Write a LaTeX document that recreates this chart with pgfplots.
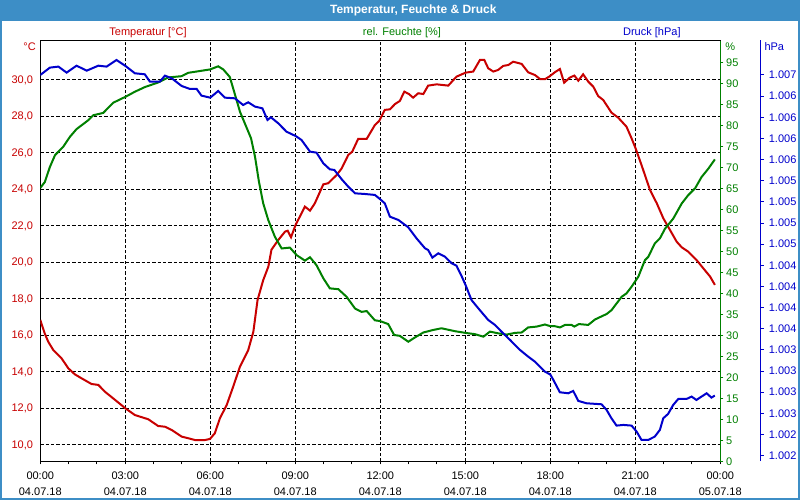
\documentclass[border=0pt]{standalone}
\usepackage{pgfplots}
\pgfplotsset{compat=1.18}
\usepackage{fontspec}
\setmainfont{Liberation Sans}
\definecolor{tred}{RGB}{200,0,0}
\definecolor{tgreen}{RGB}{0,128,0}
\definecolor{tblue}{RGB}{0,0,204}
\definecolor{barblue}{RGB}{61,142,198}
\pgfplotstableread{
t T
0.00 16.85
0.16 16.1
0.28 15.66
0.46 15.2
0.75 14.75
0.99 14.2
1.22 13.87
1.46 13.65
1.81 13.34
2.05 13.29
2.28 12.92
2.64 12.47
3.01 12.0
3.34 11.64
3.81 11.41
4.16 11.04
4.40 11.0
4.64 10.82
4.99 10.46
5.22 10.37
5.46 10.27
5.81 10.27
5.99 10.33
6.16 10.64
6.34 11.46
6.58 12.19
6.81 13.2
7.05 14.3
7.34 15.2
7.52 16.2
7.67 17.95
7.87 19.04
8.05 19.77
8.16 20.7
8.40 21.23
8.64 21.69
8.73 21.74
8.85 21.38
9.01 22.05
9.34 23.06
9.52 22.84
9.69 23.24
9.99 24.28
10.16 24.34
10.46 24.79
10.64 25.16
10.87 25.89
11.01 26.07
11.22 26.77
11.52 26.77
11.81 27.53
11.96 27.75
12.16 28.36
12.34 28.39
12.52 28.68
12.69 28.85
12.85 29.36
13.01 29.23
13.16 29.03
13.34 29.27
13.52 29.23
13.69 29.69
13.99 29.76
14.40 29.69
14.69 30.18
15.01 30.4
15.28 30.46
15.52 31.1
15.67 31.1
15.81 30.64
15.99 30.46
16.16 30.55
16.34 30.77
16.52 30.82
16.69 31.0
16.99 30.88
17.22 30.42
17.46 30.27
17.64 30.05
17.81 30.04
17.96 30.18
18.16 30.42
18.34 30.6
18.49 29.85
18.69 30.13
18.85 30.24
18.99 29.96
19.16 30.31
19.34 29.91
19.52 29.63
19.69 29.12
19.87 28.9
20.16 28.21
20.40 27.93
20.69 27.44
20.87 26.8
21.01 26.26
21.22 25.34
21.52 23.97
21.76 23.24
21.99 22.42
22.16 21.96
22.46 21.14
22.64 20.83
22.87 20.59
23.16 20.14
23.40 19.68
23.64 19.23
23.81 18.77
}\temptable
\pgfplotstableread{
t H
0.00 65.1
0.16 66.5
0.34 70.1
0.52 72.9
0.81 74.9
1.05 77.3
1.28 79.1
1.69 81.2
1.87 82.4
2.22 82.95
2.58 85.4
3.01 86.8
3.34 88.0
3.69 89.1
4.16 90.2
4.52 91.4
4.99 91.7
5.22 92.5
5.99 93.3
6.28 94.05
6.46 93.3
6.69 91.5
6.86 87.6
7.05 83.2
7.28 79.5
7.44 76.9
7.58 72.5
7.72 66.5
7.87 61.4
8.05 57.4
8.28 53.5
8.52 50.7
8.81 50.9
9.05 49.1
9.34 47.8
9.52 48.6
9.75 46.7
9.99 43.6
10.22 41.2
10.52 41.0
10.81 39.2
11.11 36.4
11.34 35.6
11.52 35.8
11.81 33.6
12.00 33.4
12.28 32.7
12.49 30.1
12.69 29.9
12.99 28.5
13.22 29.5
13.52 30.7
13.87 31.3
14.16 31.7
14.64 31.0
15.01 30.6
15.34 30.3
15.64 29.7
15.87 30.9
16.16 30.5
16.46 30.2
16.75 30.6
16.99 30.7
17.22 31.9
17.52 32.1
17.81 32.6
18.00 32.2
18.16 32.2
18.34 31.9
18.52 32.5
18.75 32.5
18.85 32.1
19.01 32.7
19.34 32.5
19.58 33.8
19.99 35.1
20.16 36.0
20.34 37.6
20.52 39.2
20.69 40.0
20.87 41.6
21.11 44.0
21.34 47.9
21.46 48.7
21.69 51.9
21.87 53.1
22.05 55.4
22.34 57.8
22.64 61.4
22.87 63.4
23.11 65.0
23.34 67.7
23.58 69.7
23.81 71.9
}\humtable
\pgfplotstableread{
t P
0.00 1006.600
0.34 1006.687
0.64 1006.699
0.93 1006.628
1.28 1006.710
1.64 1006.651
2.05 1006.710
2.34 1006.699
2.69 1006.777
3.01 1006.706
3.34 1006.620
3.69 1006.608
3.87 1006.521
4.22 1006.521
4.40 1006.592
4.64 1006.561
4.99 1006.470
5.28 1006.435
5.52 1006.435
5.69 1006.356
6.00 1006.332
6.28 1006.411
6.52 1006.332
6.87 1006.324
7.16 1006.245
7.34 1006.277
7.58 1006.226
7.84 1006.206
8.02 1006.068
8.14 1006.100
8.40 1006.029
8.69 1005.930
9.01 1005.879
9.22 1005.832
9.52 1005.694
9.75 1005.682
9.99 1005.556
10.22 1005.485
10.38 1005.477
10.64 1005.367
10.87 1005.280
11.11 1005.201
11.46 1005.193
11.81 1005.182
11.96 1005.142
12.16 1005.083
12.34 1004.925
12.64 1004.886
12.99 1004.799
13.28 1004.669
13.58 1004.551
13.69 1004.531
13.84 1004.441
14.05 1004.492
14.28 1004.453
14.52 1004.374
14.69 1004.346
14.88 1004.216
15.01 1004.118
15.22 1003.940
15.46 1003.842
15.81 1003.704
16.05 1003.645
16.28 1003.566
16.58 1003.468
16.93 1003.350
17.22 1003.271
17.46 1003.211
17.81 1003.093
18.00 1003.060
18.11 1002.995
18.34 1002.849
18.64 1002.837
18.81 1002.865
18.99 1002.747
19.28 1002.719
19.81 1002.707
19.99 1002.640
20.16 1002.542
20.34 1002.455
20.58 1002.463
20.87 1002.455
21.05 1002.384
21.22 1002.286
21.46 1002.286
21.69 1002.325
21.87 1002.404
21.99 1002.542
22.16 1002.593
22.34 1002.699
22.52 1002.770
22.81 1002.770
22.99 1002.798
23.16 1002.758
23.34 1002.798
23.52 1002.837
23.69 1002.786
23.81 1002.810
}\prestable
\begin{document}
\begin{tikzpicture}[font=\fontsize{8.25}{10}\selectfont]
\useasboundingbox (0,0) rectangle (600pt,375pt);
\fill[white] (0,0) rectangle (600pt,375pt);
\fill[barblue] (0,359.5pt) rectangle (600pt,375pt);
\draw[barblue,line width=1.5pt] (0.75pt,0.75pt) rectangle (599.25pt,374.25pt);
\node[white,font=\bfseries\fontsize{9}{10}\selectfont] at (310pt,367.3pt) {Temperatur, Feuchte \& Druck};
% temperature axis
\begin{axis}[
  at={(30.2pt,28.9pt)}, anchor=south west,
  scale only axis, width=510pt, height=315.75pt,
  xmin=0, xmax=24, ymin=9.096, ymax=32.164,
  axis line style={black, line width=0.75pt},
  xtick={0,3,...,24},
  minor xtick={1,2,4,5,7,8,10,11,13,14,16,17,19,20,22,23},
  xticklabels={{00:00\\04.07.18},{03:00\\04.07.18},{06:00\\04.07.18},{09:00\\04.07.18},{12:00\\04.07.18},{15:00\\04.07.18},{18:00\\04.07.18},{21:00\\04.07.18},{00:00\\05.07.18}},
  xticklabel style={align=center, font=\fontsize{8.25}{11.5}\selectfont, inner sep=0pt, yshift=-5.5pt},
  xtick pos=left,
  tick align=outside,
  major tick length=2.25pt, minor tick length=2.25pt,
  every tick/.style={black, line width=0.75pt},
  ytick={10,12,...,30},
  yticklabels={{10,0},{12,0},{14,0},{16,0},{18,0},{20,0},{22,0},{24,0},{26,0},{28,0},{30,0}},
  yticklabel style={tred, inner sep=0pt, xshift=-3pt},
  ytick style={draw=none},
  grid=major,
  major grid style={black, line width=0.75pt, dash pattern=on 2.5pt off 1.5pt},
]
\addplot[tred, line width=1.5pt] table[x=t,y=T] {\temptable};
\end{axis}
% humidity axis
\begin{axis}[
  at={(30.2pt,28.9pt)}, anchor=south west,
  scale only axis, width=510pt, height=315.75pt,
  xmin=0, xmax=24, ymin=0, ymax=100.2,
  hide x axis,
  axis line style={draw=none},
  ytick={0,5,...,95},
  ytick pos=right, yticklabel pos=right,
  tick align=outside, major tick length=2.25pt,
  ytick style={tgreen, line width=0.75pt},
  yticklabel style={tgreen, anchor=west, inner sep=0pt, xshift=2pt},
  /pgf/number format/assume math mode=true,
]
\addplot[tgreen, line width=1.5pt] table[x=t,y=H] {\humtable};
\end{axis}
% pressure axis
\begin{axis}[
  at={(30.2pt,28.9pt)}, anchor=south west,
  scale only axis, width=540.5pt, height=315.75pt,
  xmin=0, xmax=25.437, ymin=1002.031, ymax=1007.008,
  hide x axis,
  axis line style={draw=none},
  scaled y ticks=false,
  ytick={1002.1,1002.35,1002.6,1002.85,1003.1,1003.35,1003.6,1003.85,1004.1,1004.35,1004.6,1004.85,1005.1,1005.35,1005.6,1005.85,1006.1,1006.35,1006.6},
  yticklabels={1.002,1.002,1.003,1.003,1.003,1.003,1.004,1.004,1.004,1.004,1.005,1.005,1.005,1.005,1.006,1.006,1.006,1.006,1.007},
  ytick pos=right, yticklabel pos=right,
  tick align=outside, major tick length=2.25pt,
  ytick style={tblue, line width=0.75pt},
  yticklabel style={tblue, anchor=west, inner sep=0pt, xshift=3.5pt},
]
\addplot[tblue, line width=1.5pt] table[x=t,y=P] {\prestable};
\end{axis}
\draw[tgreen, line width=0.75pt] (540.4pt,28.9pt) -- (540.4pt,344.6pt);
\draw[tblue, line width=0.75pt] (570.6pt,29.2pt) -- (570.6pt,345pt);
\node[tred] at (111pt,350.6pt) {Temperatur [°C]};
\node[tgreen] at (301.5pt,350.6pt) {rel. Feuchte [\%]};
\node[tblue] at (488.9pt,350.6pt) {Druck [hPa]};
\node[tred, anchor=east, inner sep=0pt] at (27pt,340.3pt) {°C};
\node[tgreen, anchor=west, inner sep=0pt] at (543.8pt,340.3pt) {\%};
\node[tblue, anchor=west, inner sep=0pt] at (573.2pt,340.3pt) {hPa};
\end{tikzpicture}
\end{document}
